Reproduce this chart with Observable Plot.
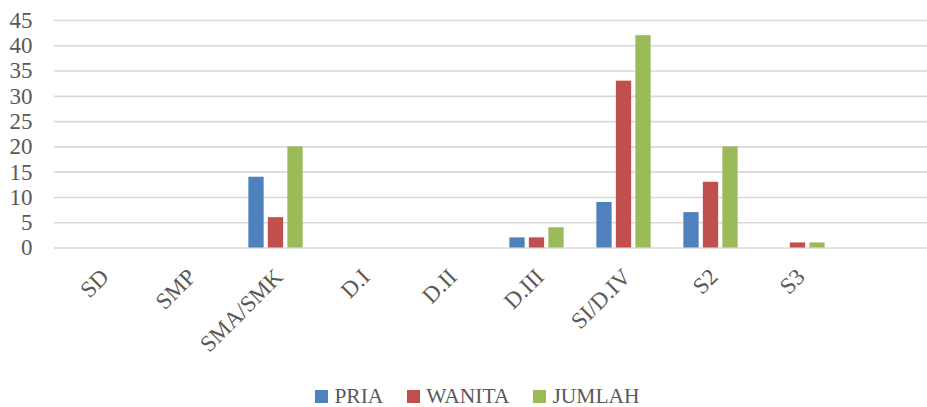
<!DOCTYPE html>
<html><head><meta charset="utf-8">
<script src="https://cdn.jsdelivr.net/npm/d3@7"></script>
<script src="https://cdn.jsdelivr.net/npm/@observablehq/plot@0.6"></script>
<style>
body{margin:0;background:#fff;font-family:"Liberation Serif",serif;}
#chart svg{display:block;}
#legend{height:37px;box-sizing:border-box;padding-top:15px;display:flex;justify-content:center;align-items:center;font-size:21.5px;color:#595959;padding-left:28px;}
.item{display:flex;align-items:center;margin:0 12px;}
.sw{width:13px;height:13px;margin-right:6px;}
</style></head><body><div id="chart"></div><div id="legend"></div>
<script>
const categories = ["SD","SMP","SMA/SMK","D.I","D.II","D.III","SI/D.IV","S2","S3"];
const series = ["PRIA","WANITA","JUMLAH"];
const pria   = [0,0,14,0,0,2,9,7,0];
const wanita = [0,0,6,0,0,2,33,13,1];
const jumlah = [0,0,20,0,0,4,42,20,1];
const colors = ["#4F81BD","#C0504D","#9BBB59"];
const yTicks = [0,5,10,15,20,25,30,35,40,45];
const slots = [...categories, ""]; // the source chart has a trailing empty slot

const values = [pria, wanita, jumlah];
const tables = values.map((arr, j) => categories.map((c, i) => ({category: c, series: series[j], value: arr[i]})).filter(d => d.value > 0));

const barW = 16, barStep = 19.5;
const chart = Plot.plot({
  width: 927, height: 370,
  marginLeft: 54, marginRight: -4, marginTop: 20, marginBottom: 122.5,
  style: {fontFamily: "Liberation Serif, serif", fontSize: "23px", color: "#595959", background: "#fff"},
  x: {domain: slots, padding: 0},
  y: {domain: [0, 45]},
  color: {domain: series, range: colors},
  marks: [
    Plot.gridY(yTicks, {stroke: "#d9d9d9", strokeOpacity: 1, strokeWidth: 1.6}),
    ...tables.map((t, j) => Plot.barY(t, {
      x: "category", y: "value", fill: "series",
      dx: (j - 1) * barStep,
      inset: 0, insetLeft: (87.7 - barW) / 2, insetRight: (87.7 - barW) / 2
    })),
    Plot.axisY({ticks: yTicks, tickSize: 0, tickPadding: 22, label: null, fill: "#595959"}),
    Plot.axisX({tickRotate: -45, tickSize: 0, tickPadding: 25, dx: 3, label: null, fill: "#595959"})
  ]
});
document.getElementById("chart").appendChild(chart);

const legend = document.getElementById("legend");
series.forEach((s, j) => {
  const it = document.createElement("div"); it.className = "item";
  const sw = document.createElement("span"); sw.className = "sw"; sw.style.background = colors[j];
  const tx = document.createElement("span"); tx.textContent = s;
  it.appendChild(sw); it.appendChild(tx); legend.appendChild(it);
});
</script></body></html>
